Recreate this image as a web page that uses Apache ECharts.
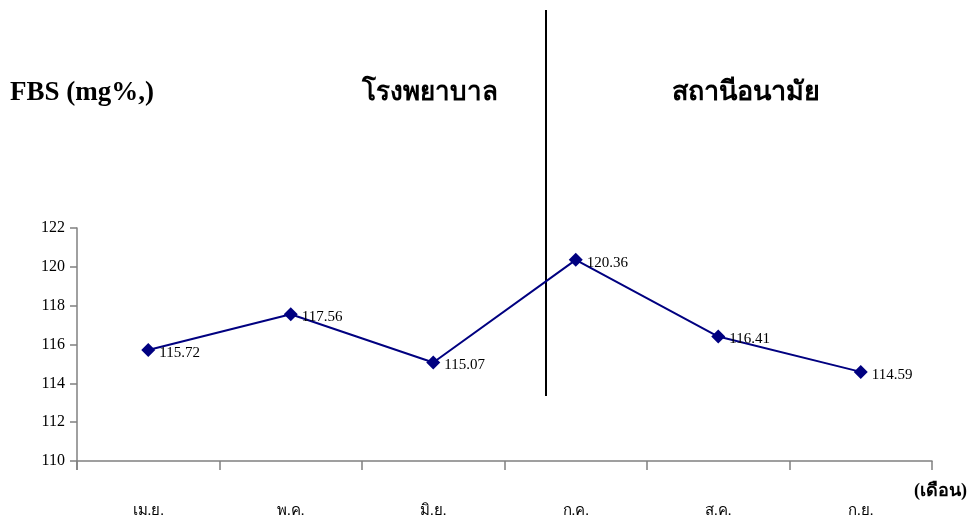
<!DOCTYPE html>
<html>
<head>
<meta charset="utf-8">
<script src="https://cdn.jsdelivr.net/npm/echarts@6/dist/echarts.min.js"></script>
<style>
html,body{margin:0;padding:0;background:#fff;}
#chart{width:969px;height:522px;}
</style>
</head>
<body>
<div id="chart"></div>
<script>
var months = ['เม.ย.', 'พ.ค.', 'มิ.ย.', 'ก.ค.', 'ส.ค.', 'ก.ย.'];
var fbsValues = [115.72, 117.56, 115.07, 120.36, 116.41, 114.59];
var yTicks = {min: 110, max: 122, step: 2};

var serif = '"Liberation Serif", "Times New Roman", serif';
var chart = echarts.init(document.getElementById('chart'));
chart.setOption({
    animation: false,
    grid: {left: 77, right: 37, top: 228, bottom: 61},
    xAxis: {
        type: 'category',
        data: months,
        boundaryGap: true,
        axisLine: {lineStyle: {color: '#808080', width: 1.5}},
        axisTick: {show: true, alignWithLabel: false, length: 9, lineStyle: {color: '#808080', width: 1.5}},
        axisLabel: {color: '#000', fontFamily: serif, fontSize: 15, margin: 43}
    },
    yAxis: {
        type: 'value',
        min: yTicks.min,
        max: yTicks.max,
        interval: yTicks.step,
        axisLine: {show: true, lineStyle: {color: '#808080', width: 1.5}},
        axisTick: {show: true, length: 7, lineStyle: {color: '#808080', width: 1.5}},
        splitLine: {show: false},
        axisLabel: {color: '#000', fontFamily: serif, fontSize: 16, margin: 12}
    },
    series: [{
        type: 'line',
        data: fbsValues,
        symbol: 'diamond',
        symbolSize: 14,
        itemStyle: {color: '#000080'},
        lineStyle: {color: '#000080', width: 2},
        label: {
            show: true,
            position: 'right',
            distance: 4,
            color: '#000',
            fontFamily: serif,
            fontSize: 15,
            offset: [0, 3]
        }
    }],
    graphic: [
        {type: 'line', shape: {x1: 546, y1: 10, x2: 546, y2: 396}, style: {stroke: '#000', lineWidth: 2}},
        {type: 'line', shape: {x1: 77, y1: 461, x2: 77, y2: 470}, style: {stroke: '#808080', lineWidth: 1.5}},
        {type: 'text', left: 10, top: 80, style: {text: 'FBS (mg%,)', font: 'bold 27px ' + serif, fill: '#000'}},
        {type: 'text', left: 362, top: 80, style: {text: 'โรงพยาบาล', font: 'bold 26px ' + serif, fill: '#000'}},
        {type: 'text', left: 672, top: 80, style: {text: 'สถานีอนามัย', font: 'bold 27px ' + serif, fill: '#000'}},
        {type: 'text', left: 914, top: 482, style: {text: '(เดือน)', font: 'bold 18px ' + serif, fill: '#000'}}
    ]
});
</script>
</body>
</html>
